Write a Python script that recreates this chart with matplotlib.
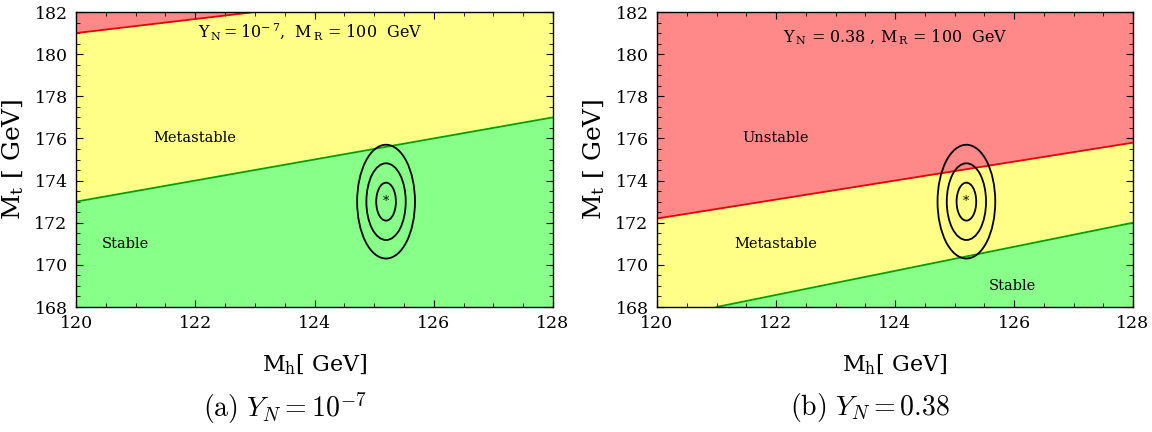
import matplotlib
matplotlib.use("Agg")
import matplotlib.pyplot as plt
from matplotlib.patches import Ellipse
from matplotlib.ticker import MultipleLocator
import numpy as np

# ---- data ----
xlim = (120, 128)
ylim = (168, 182)
# boundary lines: (x0, x1), (y0, y1)
a_red_x = [120, 123]
a_red_y = [181.0, 182.0]
a_green_x = [120, 128]
a_green_y = [173.0, 177.0]
b_red_x = [120, 128]
b_red_y = [172.2, 175.8]
b_green_x = [121, 128]
b_green_y = [168.0, 172.0]

center = (125.2, 173.0)
ell_halfwidths = [0.165, 0.33, 0.485]
ell_halfheights = [0.9, 1.82, 2.7]

captions = [r"$\mathrm{(a)}\ Y_N = 10^{-7}$", r"$\mathrm{(b)}\ Y_N = 0.38$"]

RED_FILL = "#ff8888"
YEL_FILL = "#ffff88"
GRN_FILL = "#88ff88"
RED_LINE = "#ee0000"
GRN_LINE = "#00a000"

plt.rcParams["mathtext.fontset"] = "dejavuserif"
fig = plt.figure(figsize=(11.52, 4.32), dpi=100)

axa = fig.add_axes([76/1152, 1-307/432, 477/1152, 295/432])
axb = fig.add_axes([657/1152, 1-307/432, 476/1152, 295/432])

SERIF = "DejaVu Serif"

def setup(ax):
    ax.set_xlim(*xlim)
    ax.set_ylim(*ylim)
    ax.xaxis.set_major_locator(MultipleLocator(2))
    ax.yaxis.set_major_locator(MultipleLocator(2))
    ax.xaxis.set_minor_locator(MultipleLocator(0.5))
    ax.yaxis.set_minor_locator(MultipleLocator(0.5))
    ax.tick_params(which="both", direction="in", top=True, right=True)
    ax.tick_params(which="major", length=5, width=0.8, labelsize=12.5, pad=6)
    ax.tick_params(which="minor", length=3, width=0.6)
    for lab in ax.get_xticklabels() + ax.get_yticklabels():
        lab.set_family(SERIF)
    ax.set_xlabel(r"$\mathrm{M_h}$[ GeV]", family=SERIF, fontsize=16, labelpad=15)
    ax.set_ylabel(r"$\mathrm{M_t}$ [ GeV]", family=SERIF, fontsize=18, labelpad=6)
    for s in ax.spines.values():
        s.set_linewidth(1.0)

def line_at(xs, ys, x):
    return ys[0] + (ys[1]-ys[0])/(xs[1]-xs[0])*(x-xs[0])

def ellipses(ax):
    for w, h in zip(ell_halfwidths, ell_halfheights):
        ax.add_patch(Ellipse(center, 2*w, 2*h, fill=False, ec="black", lw=1.3, zorder=5))
    ax.text(center[0], center[1], "*", ha="center", va="center", fontsize=9, zorder=6,
            family=SERIF)

xx = np.linspace(xlim[0], xlim[1], 200)
TXT = 10.5

# panel a
setup(axa)
ga = line_at(a_green_x, a_green_y, xx)
ra = np.minimum(line_at(a_red_x, a_red_y, xx), ylim[1])
axa.fill_between(xx, ylim[0], ga, color=GRN_FILL, lw=0)
axa.fill_between(xx, ga, ra, color=YEL_FILL, lw=0)
axa.fill_between(xx, ra, ylim[1], color=RED_FILL, lw=0)
axa.plot(a_green_x, a_green_y, color=GRN_LINE, lw=1.3)
axa.plot(a_red_x, a_red_y, color=RED_LINE, lw=1.3)
ellipses(axa)
axa.text(0.492, 0.93, r"$\mathrm{Y_{\,N}} = 10^{-\,7}$,  $\mathrm{M_{\,R}}$ = 100  GeV",
         transform=axa.transAxes, ha="center", va="center", fontsize=11.5, family=SERIF)
axa.text(122.0, 176.0, "Metastable", ha="center", va="center", fontsize=TXT, family=SERIF)
axa.text(120.82, 171.0, "Stable", ha="center", va="center", fontsize=TXT, family=SERIF)

# panel b
setup(axb)
gb = np.maximum(line_at(b_green_x, b_green_y, xx), ylim[0])
rb = line_at(b_red_x, b_red_y, xx)
axb.fill_between(xx, ylim[0], gb, color=GRN_FILL, lw=0)
axb.fill_between(xx, gb, rb, color=YEL_FILL, lw=0)
axb.fill_between(xx, rb, ylim[1], color=RED_FILL, lw=0)
axb.plot(b_green_x, b_green_y, color=GRN_LINE, lw=1.3)
axb.plot(b_red_x, b_red_y, color=RED_LINE, lw=1.3)
ellipses(axb)
axb.text(0.5, 0.915, r"$\mathrm{Y_{\,N}}$ = 0.38 , $\mathrm{M_{\,R}}$ = 100  GeV",
         transform=axb.transAxes, ha="center", va="center", fontsize=11.5, family=SERIF)
axb.text(122.0, 176.0, "Unstable", ha="center", va="center", fontsize=TXT, family=SERIF)
axb.text(122.0, 171.0, "Metastable", ha="center", va="center", fontsize=TXT, family=SERIF)
axb.text(125.97, 169.0, "Stable", ha="center", va="center", fontsize=TXT, family=SERIF)

# captions
fig.text(285/1152, 1-408/432, captions[0], ha="center", va="center", fontsize=20, math_fontfamily="cm")
fig.text(870/1152, 1-408/432, captions[1], ha="center", va="center", fontsize=20, math_fontfamily="cm")

fig.savefig("out.png", dpi=100)
